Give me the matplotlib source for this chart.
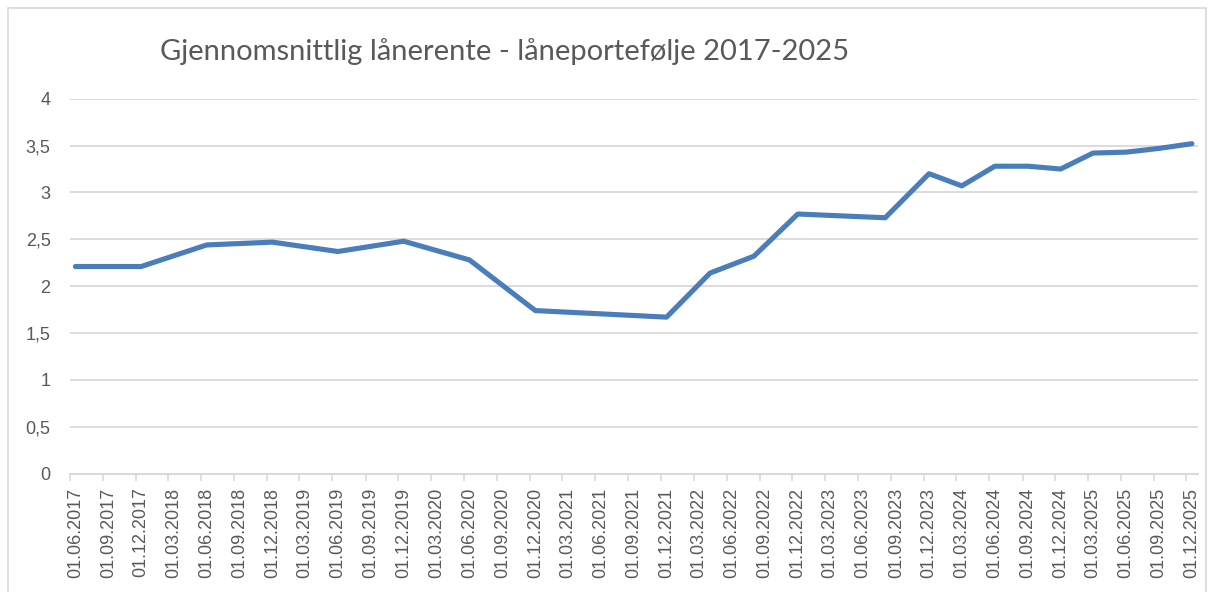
import datetime as dt

import matplotlib
matplotlib.use("Agg")
import matplotlib.dates as mdates
import matplotlib.pyplot as plt
from matplotlib.patches import Rectangle

# observed points of the line (date, average rate in %)
dates = ["2017-06-01", "2017-12-01", "2018-06-01", "2018-12-01", "2019-06-01",
         "2019-12-01", "2020-06-01", "2020-12-01", "2021-12-01", "2022-04-01",
         "2022-08-01", "2022-12-01", "2023-08-01", "2023-12-01", "2024-03-01",
         "2024-06-01", "2024-09-01", "2024-12-01", "2025-03-01", "2025-06-01",
         "2025-09-01", "2025-12-01"]
rates = [2.21, 2.21, 2.44, 2.47, 2.37,
         2.48, 2.28, 1.74, 1.67, 2.14,
         2.32, 2.77, 2.73, 3.20, 3.07,
         3.28, 3.28, 3.25, 3.42, 3.43,
         3.47, 3.52]

# quarterly axis labels
label_dates = []
for year in range(2017, 2026):
    for month in (3, 6, 9, 12):
        if year == 2017 and month == 3:
            continue
        label_dates.append(dt.date(year, month, 1))
tick_labels = [d.strftime("%d.%m.%Y") for d in label_dates]

title = "Gjennomsnittlig lånerente - låneportefølje 2017-2025"

grey_text = "#595959"
grey_line = "#d9d9d9"
blue = "#4a7ebb"

W, H = 1214, 592
fig = plt.figure(figsize=(W / 100, H / 100), dpi=100)
fig.patches.append(Rectangle((8 / W, -0.1), (1206 - 8) / W, (H - 8) / H + 0.1,
                             transform=fig.transFigure, fill=False,
                             edgecolor=grey_line, linewidth=1.2))

ax = fig.add_axes([70 / W, (H - 473.7) / H, (1198 - 70) / W, (473.7 - 98.7) / H])

x = [mdates.date2num(dt.date.fromisoformat(d)) for d in dates]
ax.plot(x, rates, color=blue, linewidth=3.7,
        solid_capstyle="round", solid_joinstyle="round", zorder=3)

ax.set_ylim(0, 4)
ax.set_yticks([0, 0.5, 1, 1.5, 2, 2.5, 3, 3.5, 4])
ax.set_yticklabels(["0", "0,5", "1", "1,5", "2", "2,5", "3", "3,5", "4"])
ax.yaxis.grid(True, color=grey_line, linewidth=1.3)
ax.set_axisbelow(True)

lx = [mdates.date2num(d) for d in label_dates]
ax.set_xlim(mdates.date2num(dt.date(2017, 5, 17)), mdates.date2num(dt.date(2025, 12, 18)))
ax.set_xticks(lx)
ax.set_xticklabels(tick_labels, rotation=90)
ax.set_xticks([v - 15 for v in lx], minor=True)

for side in ("top", "right", "left"):
    ax.spines[side].set_visible(False)
ax.spines["bottom"].set_color(grey_line)
ax.spines["bottom"].set_linewidth(1.4)

ax.tick_params(axis="x", which="major", length=0, pad=10,
               labelsize=13, labelcolor=grey_text)
ax.tick_params(axis="x", which="minor", length=5, width=1.2, color=grey_line)
ax.tick_params(axis="y", length=0, pad=14, labelsize=13, labelcolor=grey_text)
for lab in ax.get_xticklabels() + ax.get_yticklabels():
    lab.set_family("Liberation Sans")

fig.text(505 / W, 1 - 52 / H, title, ha="center", va="center",
         fontsize=21, color=grey_text, family="Lato")

fig.savefig("out.png", dpi=100)
